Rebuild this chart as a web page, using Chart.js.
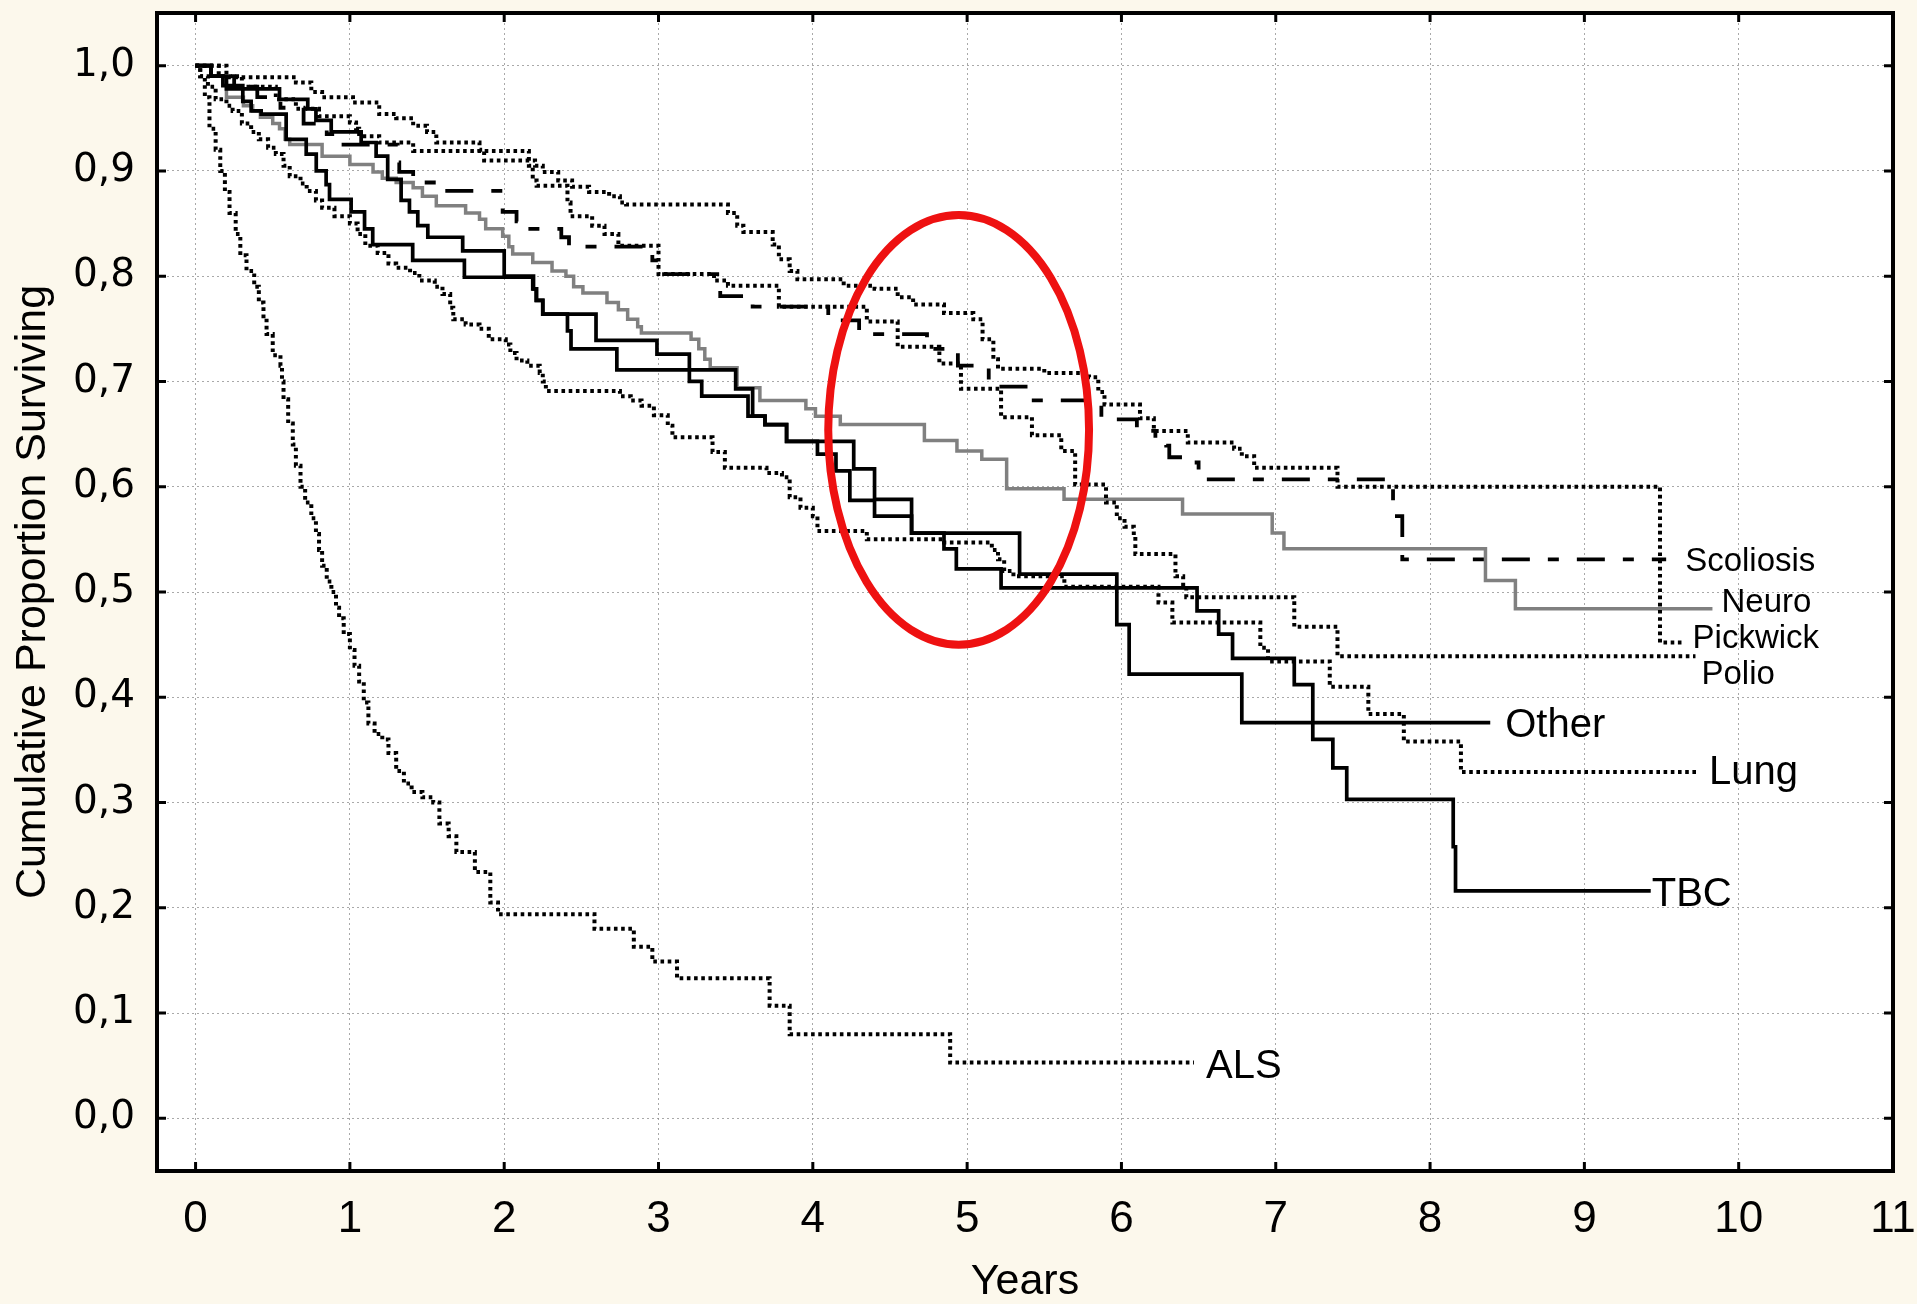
<!DOCTYPE html>
<html>
<head>
<meta charset="utf-8">
<script src="https://cdn.jsdelivr.net/npm/chart.js@4.4.1/dist/chart.umd.min.js"></script>
<style>
html,body{margin:0;padding:0;background:#FCF8EC;}
canvas{display:block;}
</style>
</head>
<body>
<canvas id="c" width="1917" height="1304"></canvas>
<script>
// ---------- data ----------
const xTicks = [0,1,2,3,4,5,6,7,8,9,10,11];
const yTicks = [0,0.1,0.2,0.3,0.4,0.5,0.6,0.7,0.8,0.9,1.0];
const seriesNames = ['TBC','Other','Scoliosis','Pickwick','Polio','Lung','ALS','Neuro'];

const tbcT = [0,0.10,0.177,0.306,0.36,0.425,0.587,0.717,0.782,0.846,0.868,1.008,1.095,1.148,1.407,1.742,2.185,2.207,2.25,2.41,2.433,2.73,3.50,3.61,3.69,3.83,4.265,4.40,4.64,4.85,4.93,5.22,6.49,6.63,6.72,7.12,7.24,7.37,7.46,8.15,8.165,9.43];
const tbcS = [1.0,0.99,0.981,0.966,0.957,0.954,0.930,0.916,0.900,0.887,0.873,0.861,0.845,0.830,0.815,0.799,0.788,0.777,0.764,0.748,0.731,0.711,0.693,0.667,0.659,0.643,0.617,0.588,0.556,0.541,0.522,0.504,0.482,0.46,0.437,0.412,0.36,0.333,0.303,0.258,0.216,0.216];

const otherT = [0,0.10,0.20,0.544,0.727,0.78,0.879,1.073,1.17,1.245,1.332,1.386,1.44,1.505,1.731,2.00,2.19,2.21,2.25,2.595,2.99,3.20,3.28,3.58,3.69,3.83,4.03,4.15,4.24,4.40,4.64,5.34,5.97,6.05,6.78,8.39];
const otherS = [1.0,0.99,0.978,0.968,0.959,0.948,0.937,0.927,0.914,0.892,0.872,0.861,0.848,0.837,0.824,0.80,0.788,0.777,0.764,0.739,0.726,0.70,0.686,0.667,0.659,0.643,0.631,0.615,0.587,0.572,0.556,0.517,0.469,0.422,0.376,0.376];

const scolT = [0,0.10,0.25,0.40,0.55,0.70,0.85,0.93,1.31,1.32,1.41,1.60,1.99,2.08,2.12,2.37,2.42,2.96,3.00,3.40,3.61,4.10,4.30,4.74,4.94,5.14,5.40,5.87,6.10,6.22,6.29,6.31,6.44,6.50,7.76,7.82,9.53];
const scolS = [1.0,0.99,0.98,0.97,0.96,0.945,0.935,0.925,0.908,0.899,0.889,0.881,0.861,0.852,0.845,0.837,0.828,0.815,0.802,0.781,0.771,0.758,0.745,0.731,0.715,0.695,0.682,0.664,0.653,0.644,0.639,0.628,0.623,0.607,0.572,0.531,0.531];

const pickT = [0,0.20,0.65,0.75,0.82,1.02,1.19,1.30,1.41,1.50,1.56,1.84,1.87,2.20,2.25,2.35,2.44,2.55,2.68,2.75,2.79,3.45,3.51,3.55,3.74,3.78,3.85,3.90,4.20,4.40,4.55,4.65,4.85,5.04,5.10,5.17,5.20,5.50,5.79,5.85,5.89,6.12,6.21,6.43,6.73,6.78,6.86,7.40,9.49,9.63];
const pickS = [1.0,0.989,0.984,0.975,0.97,0.965,0.954,0.95,0.943,0.937,0.927,0.92,0.91,0.905,0.899,0.891,0.885,0.88,0.876,0.87,0.868,0.86,0.848,0.842,0.83,0.816,0.805,0.797,0.791,0.788,0.78,0.773,0.765,0.759,0.74,0.721,0.712,0.708,0.704,0.69,0.678,0.665,0.653,0.642,0.636,0.629,0.618,0.60,0.452,0.452];

const polioT = [0,0.15,0.30,0.52,0.65,0.80,1.00,1.04,1.06,1.19,1.41,2.16,2.185,2.21,2.41,2.43,2.57,2.65,2.74,3.00,3.36,3.45,3.78,4.35,4.55,4.82,4.96,5.22,5.42,5.61,5.70,5.90,5.97,6.02,6.08,6.09,6.35,6.40,6.42,7.12,7.40,9.72];
const polioS = [1.0,0.99,0.98,0.968,0.959,0.952,0.946,0.94,0.933,0.927,0.919,0.905,0.891,0.886,0.87,0.857,0.848,0.84,0.829,0.802,0.796,0.791,0.771,0.757,0.733,0.717,0.693,0.666,0.649,0.634,0.602,0.585,0.57,0.562,0.553,0.536,0.515,0.505,0.495,0.467,0.439,0.439];

const lungT = [0,0.03,0.08,0.13,0.20,0.24,0.30,0.36,0.41,0.47,0.52,0.57,0.61,0.68,0.72,0.78,0.82,0.90,1.00,1.05,1.10,1.18,1.25,1.30,1.39,1.45,1.55,1.60,1.65,1.67,1.75,1.84,1.90,2.01,2.04,2.08,2.15,2.23,2.25,2.27,2.75,2.82,2.89,2.97,3.06,3.09,3.35,3.43,3.70,3.80,3.85,3.92,4.00,4.03,4.35,4.85,5.16,5.20,5.24,5.30,5.63,6.24,6.33,6.90,6.95,7.35,7.60,7.83,8.20,9.73];
const lungS = [1.0,0.99,0.98,0.968,0.962,0.957,0.945,0.937,0.93,0.922,0.916,0.905,0.895,0.888,0.881,0.872,0.865,0.857,0.85,0.84,0.829,0.822,0.812,0.808,0.803,0.796,0.79,0.783,0.77,0.759,0.754,0.75,0.74,0.735,0.727,0.72,0.715,0.708,0.70,0.691,0.686,0.682,0.677,0.668,0.658,0.647,0.633,0.618,0.613,0.609,0.59,0.58,0.572,0.558,0.55,0.547,0.54,0.531,0.52,0.515,0.505,0.49,0.471,0.447,0.434,0.41,0.384,0.358,0.329,0.329];

const alsT = [0,0.03,0.06,0.09,0.13,0.16,0.19,0.22,0.26,0.29,0.33,0.38,0.41,0.44,0.46,0.50,0.55,0.56,0.57,0.60,0.63,0.65,0.68,0.71,0.75,0.78,0.80,0.82,0.85,0.88,0.91,0.93,0.96,1.00,1.03,1.06,1.09,1.12,1.16,1.21,1.25,1.30,1.35,1.40,1.47,1.54,1.58,1.64,1.69,1.81,1.91,1.96,2.585,2.84,2.96,3.12,3.72,3.85,4.89,6.47];
const alsS = [1.0,0.99,0.97,0.94,0.92,0.90,0.88,0.86,0.84,0.82,0.805,0.79,0.775,0.76,0.745,0.725,0.715,0.70,0.683,0.66,0.64,0.62,0.60,0.585,0.57,0.555,0.54,0.525,0.51,0.50,0.485,0.475,0.46,0.445,0.43,0.415,0.395,0.375,0.365,0.36,0.347,0.33,0.318,0.31,0.305,0.30,0.28,0.268,0.253,0.234,0.205,0.194,0.18,0.163,0.149,0.133,0.107,0.08,0.053,0.053];

const neuroT = [0,0.10,0.18,0.20,0.31,0.37,0.42,0.50,0.544,0.58,0.61,0.82,1.00,1.15,1.21,1.30,1.41,1.47,1.56,1.75,1.84,1.88,1.99,2.03,2.055,2.185,2.31,2.40,2.45,2.51,2.666,2.74,2.80,2.865,2.889,3.211,3.261,3.30,3.335,3.509,3.657,3.955,4.017,4.178,4.723,4.934,5.095,5.256,5.628,6.396,6.977,7.053,8.359,8.553,9.83];
const neuroS = [1.0,0.99,0.984,0.97,0.962,0.957,0.951,0.945,0.94,0.93,0.925,0.914,0.906,0.899,0.893,0.889,0.884,0.876,0.867,0.86,0.854,0.845,0.838,0.828,0.821,0.813,0.805,0.80,0.79,0.784,0.775,0.768,0.759,0.752,0.746,0.74,0.731,0.721,0.713,0.694,0.682,0.674,0.667,0.659,0.644,0.634,0.626,0.598,0.588,0.574,0.556,0.541,0.511,0.484,0.484];

// red annotation ellipse (data units)
const ringCenter = {x: 4.945, y: 0.654};
const ringRadius = {x: 0.845, y: 0.204};

// ---------- styling / build ----------
const FAMILY = '"Liberation Sans", Arial, Helvetica, sans-serif';
const NARROW = '"Liberation Sans Narrow", "Arial Narrow", "Liberation Sans", Arial, sans-serif';
const WIDE = '"DejaVu Sans", Verdana, "Liberation Sans", sans-serif';
const pts = (t, s) => t.map((v, i) => ({x: v, y: s[i]}));
const DOT = [3.6, 3.6];

function ds(name, t, s, style, label) {
  return Object.assign({
    label: name,
    data: pts(t, s),
    stepped: true,
    borderColor: '#000000',
    borderWidth: 3.7,
    borderCapStyle: 'butt',
    pointRadius: 0,
    fill: false,
    endLabel: Object.assign({text: name}, label)
  }, style);
}

const datasets = [
  ds(seriesNames[0], tbcT, tbcS, {}, {size: 40, dx: 1, dy: 15}),
  ds(seriesNames[1], otherT, otherS, {}, {size: 40, dx: 15, dy: 14}),
  ds(seriesNames[2], scolT, scolS, {borderWidth: 3.8, borderDash: [28, 18, 11, 18]}, {size: 33, dx: 19, dy: 12}),
  ds(seriesNames[3], pickT, pickS, {borderWidth: 4, borderDash: DOT}, {size: 33, dx: 11, dy: 5}),
  ds(seriesNames[4], polioT, polioS, {borderWidth: 4, borderDash: DOT}, {size: 33, dx: 6, dy: 28}),
  ds(seriesNames[5], lungT, lungS, {borderWidth: 4, borderDash: DOT}, {size: 40, dx: 12, dy: 12}),
  ds(seriesNames[6], alsT, alsS, {borderWidth: 4, borderDash: DOT}, {size: 40, dx: 12, dy: 15}),
  ds(seriesNames[7], neuroT, neuroS, {borderColor: '#808080', borderWidth: 3.5}, {size: 33, dx: 9, dy: 3})
];

const bgPlugin = {
  id: 'bgPlugin',
  beforeDraw(chart) {
    const {ctx, chartArea: a} = chart;
    ctx.save();
    ctx.fillStyle = '#FCF8EC';
    ctx.fillRect(0, 0, chart.width, chart.height);
    ctx.fillStyle = '#FFFFFF';
    ctx.fillRect(a.left, a.top, a.right - a.left, a.bottom - a.top);
    ctx.restore();
  }
};

const overlayPlugin = {
  id: 'overlayPlugin',
  afterDatasetsDraw(chart) {
    const {ctx, chartArea: a} = chart;
    const xs = chart.scales.x, ys = chart.scales.y;
    ctx.save();
    // curve end labels
    chart.data.datasets.forEach(d => {
      const last = d.data[d.data.length - 1];
      const px = xs.getPixelForValue(last.x) + d.endLabel.dx;
      const py = ys.getPixelForValue(last.y) + d.endLabel.dy;
      ctx.font = d.endLabel.size + 'px ' + FAMILY;
      ctx.fillStyle = '#000';
      ctx.textAlign = 'left';
      ctx.textBaseline = 'alphabetic';
      ctx.fillText(d.endLabel.text, px, py);
    });
    // red ring
    const cx = xs.getPixelForValue(ringCenter.x), cy = ys.getPixelForValue(ringCenter.y);
    const rx = Math.abs(xs.getPixelForValue(ringCenter.x + ringRadius.x) - cx);
    const ry = Math.abs(ys.getPixelForValue(ringCenter.y + ringRadius.y) - cy);
    ctx.beginPath();
    ctx.ellipse(cx, cy, rx, ry, 0, 0, Math.PI * 2);
    ctx.strokeStyle = '#EE1111';
    ctx.lineWidth = 8;
    ctx.stroke();
    // frame
    ctx.strokeStyle = '#000';
    ctx.lineWidth = 4;
    ctx.strokeRect(a.left, a.top, a.right - a.left, a.bottom - a.top);
    // inward ticks on all four sides
    ctx.lineWidth = 3;
    ctx.beginPath();
    xTicks.forEach(v => {
      const p = xs.getPixelForValue(v);
      ctx.moveTo(p, a.bottom); ctx.lineTo(p, a.bottom - 9);
      ctx.moveTo(p, a.top); ctx.lineTo(p, a.top + 9);
    });
    yTicks.forEach(v => {
      const p = ys.getPixelForValue(v);
      ctx.moveTo(a.left, p); ctx.lineTo(a.left + 9, p);
      ctx.moveTo(a.right, p); ctx.lineTo(a.right - 9, p);
    });
    ctx.stroke();
    ctx.restore();
  }
};

const gridOpts = {color: 'rgba(140,140,140,0.75)', lineWidth: 1, drawTicks: false};
const noPad = s => { s.paddingLeft = 0; s.paddingRight = 0; s.paddingTop = 0; s.paddingBottom = 0; };

new Chart(document.getElementById('c'), {
  type: 'scatter',
  data: {datasets},
  plugins: [bgPlugin, overlayPlugin],
  options: {
    responsive: false,
    animation: false,
    devicePixelRatio: 1,
    showLine: true,
    layout: {padding: {top: 13, right: 24, left: 0, bottom: 0}},
    plugins: {legend: {display: false}, tooltip: {enabled: false}},
    elements: {point: {radius: 0}, line: {tension: 0}},
    scales: {
      x: {
        type: 'linear', min: -0.25, max: 11,
        afterBuildTicks: s => { s.ticks = xTicks.map(v => ({value: v})); },
        afterFit: s => { s.height = 133; noPad(s); },
        grid: gridOpts,
        border: {display: false, dash: [2, 3]},
        ticks: {color: '#000', font: {family: NARROW, size: 44}, padding: 22, maxRotation: 0, autoSkip: false,
                callback: v => String(v)},
        title: {display: true, text: 'Years', color: '#000', font: {family: FAMILY, size: 43, lineHeight: 1}, padding: {top: 1, bottom: 0}}
      },
      y: {
        type: 'linear', min: -0.05, max: 1.05,
        afterBuildTicks: s => { s.ticks = yTicks.map(v => ({value: v})); },
        afterFit: s => { s.width = 157; noPad(s); },
        grid: gridOpts,
        border: {display: false, dash: [2, 3]},
        ticks: {color: '#000', font: {family: WIDE, size: 39}, padding: 22, autoSkip: false,
                callback: v => v.toFixed(1).replace('.', ',')},
        title: {display: true, text: 'Cumulative Proportion Surviving', color: '#000', font: {family: FAMILY, size: 43, lineHeight: 1.2}, padding: {top: 7, bottom: 0}}
      }
    }
  }
});
</script>
</body>
</html>
